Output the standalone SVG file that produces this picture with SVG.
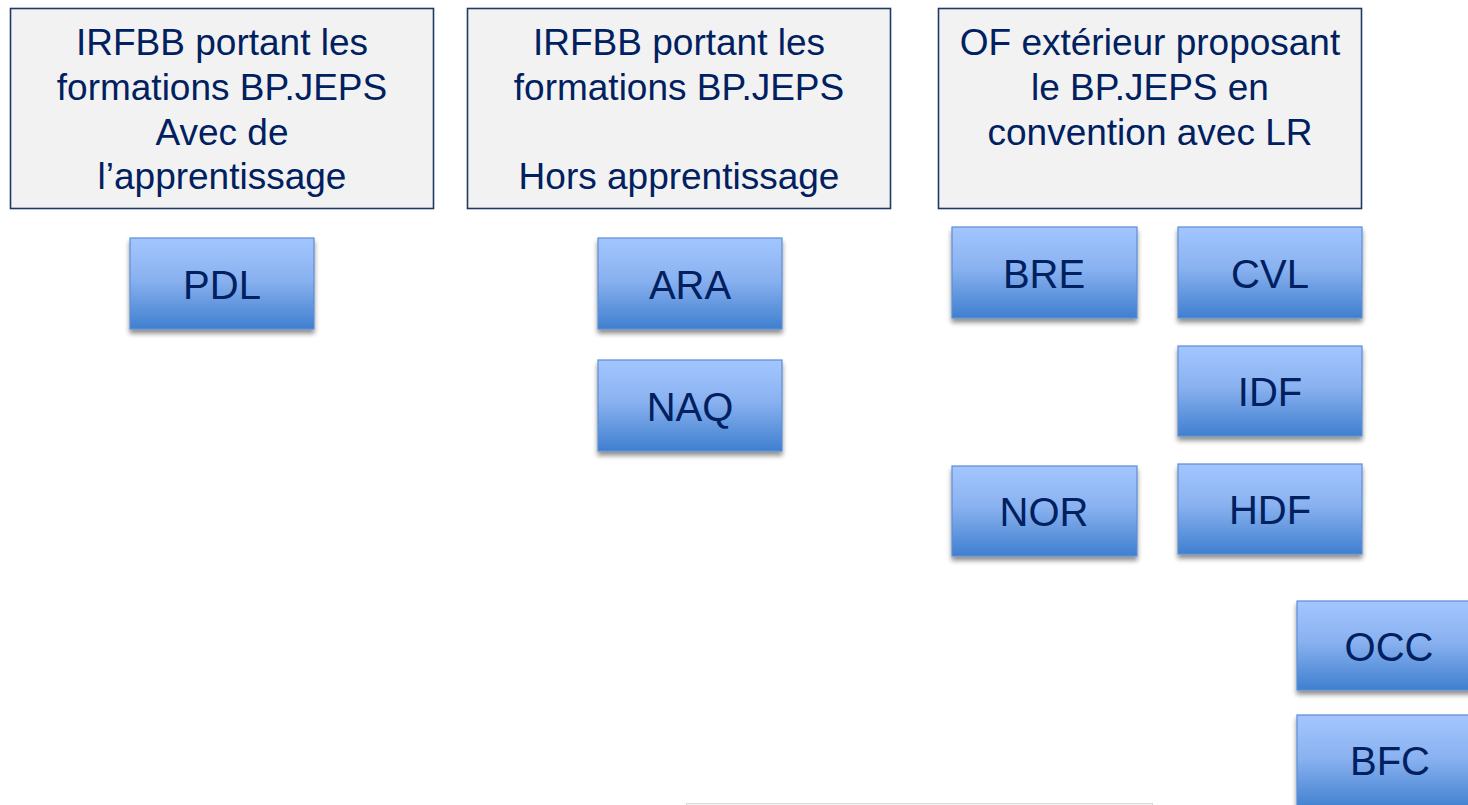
<svg xmlns="http://www.w3.org/2000/svg" width="1468" height="805" viewBox="0 0 1468 805">
<defs>
<linearGradient id="blue" x1="0" y1="0" x2="0" y2="1">
<stop offset="0" stop-color="#a3c6ff"/>
<stop offset="0.45" stop-color="#8ab2f0"/>
<stop offset="1" stop-color="#3f7fcf"/>
</linearGradient>
<filter id="sh" x="-10%" y="-10%" width="120%" height="130%">
<feGaussianBlur in="SourceAlpha" stdDeviation="2.5"/>
<feOffset dx="0" dy="4" result="b"/>
<feComponentTransfer><feFuncA type="linear" slope="0.45"/></feComponentTransfer>
<feMerge><feMergeNode/><feMergeNode in="SourceGraphic"/></feMerge>
</filter>
</defs>
<style>
.hdr{fill:#f2f2f2;stroke:#1f3864;stroke-width:1.6}
.ht{font-family:"Liberation Sans",Arial,sans-serif;font-size:37px;fill:#002060;text-anchor:middle}
.reg{fill:url(#blue);stroke:#5a8ed6;stroke-width:1.2;filter:url(#sh)}
.rt{font-family:"Liberation Sans",Arial,sans-serif;font-size:40px;fill:#002060;text-anchor:middle}
</style>
<rect width="1468" height="805" fill="#ffffff"/>
<g id="hdr1">
<rect class="hdr" x="10.5" y="8.5" width="423" height="200"/>
<text class="ht" x="222" y="55">IRFBB portant les</text>
<text class="ht" x="222" y="100">formations BP.JEPS</text>
<text class="ht" x="222" y="145">Avec de</text>
<text class="ht" x="222" y="189">l’apprentissage</text>
</g>
<g id="hdr2">
<rect class="hdr" x="467.5" y="8.5" width="423" height="200"/>
<text class="ht" x="679" y="55">IRFBB portant les</text>
<text class="ht" x="679" y="100">formations BP.JEPS</text>
<text class="ht" x="679" y="189">Hors apprentissage</text>
</g>
<g id="hdr3">
<rect class="hdr" x="938.5" y="8.5" width="423" height="200"/>
<text class="ht" x="1150" y="55">OF extérieur proposant</text>
<text class="ht" x="1150" y="100">le BP.JEPS en</text>
<text class="ht" x="1150" y="145">convention avec LR</text>
</g>
<g id="PDL"><rect class="reg" x="130" y="238" width="184" height="91"/><text class="rt" x="222" y="299">PDL</text></g>
<g id="ARA"><rect class="reg" x="598" y="238" width="184" height="91"/><text class="rt" x="690" y="299">ARA</text></g>
<g id="NAQ"><rect class="reg" x="598" y="360" width="184" height="91"/><text class="rt" x="690" y="421">NAQ</text></g>
<g id="BRE"><rect class="reg" x="952" y="227" width="185" height="91"/><text class="rt" x="1044" y="288">BRE</text></g>
<g id="CVL"><rect class="reg" x="1178" y="227" width="184" height="91"/><text class="rt" x="1270" y="288">CVL</text></g>
<g id="IDF"><rect class="reg" x="1178" y="346" width="184" height="90"/><text class="rt" x="1270" y="406">IDF</text></g>
<g id="NOR"><rect class="reg" x="952" y="466" width="185" height="90"/><text class="rt" x="1044" y="526">NOR</text></g>
<g id="HDF"><rect class="reg" x="1178" y="464" width="184" height="90"/><text class="rt" x="1270" y="524">HDF</text></g>
<g id="OCC"><rect class="reg" x="1297" y="601" width="184" height="89"/><text class="rt" x="1389" y="661">OCC</text></g>
<g id="BFC"><rect class="reg" x="1297" y="715" width="184" height="95"/><text class="rt" x="1390" y="775">BFC</text></g>
<g id="bottom"><rect x="686.5" y="803.5" width="466" height="10" fill="#f4f4f4" stroke="#d9d9d9" stroke-width="1"/></g>
<g id="connectors"/>
</svg>
